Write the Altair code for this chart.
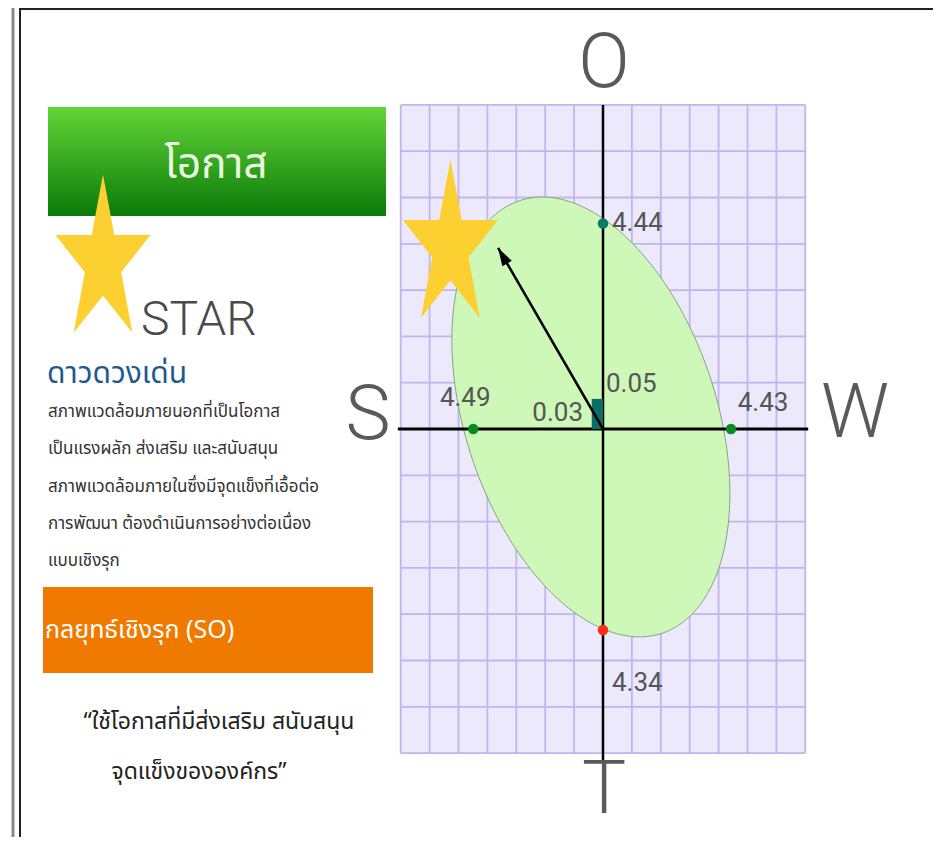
import math
import altair as alt
import pandas as pd

# ---------------- data ----------------
directions = ["O", "S", "W", "T"]
scores = [4.44, 4.49, 4.43, 4.34]
score_text = ["4.44", "4.49", "4.43", "4.34"]
dir_x = [0, -1, 1, 0]
dir_y = [1, 0, 0, -1]
point_colors = ["#0b7a63", "#0b8a1f", "#0b8a1f", "#ff2b12"]
shift_values = [0.05, 0.03]          # (O-T)/2 , (S-W)/2
shift_text = ["0.05", "0.03"]

title_box = "โอกาส"
star_word = "STAR"
star_name = "ดาวดวงเด่น"
body_lines = [
    "สภาพแวดล้อมภายนอกที่เป็นโอกาส",
    "เป็นแรงผลัก ส่งเสริม และสนับสนุน",
    "สภาพแวดล้อมภายในซึ่งมีจุดแข็งที่เอื้อต่อ",
    "การพัฒนา ต้องดำเนินการอย่างต่อเนื่อง",
    "แบบเชิงรุก",
]
strategy = "กลยุทธ์เชิงรุก (SO)"
quote_lines = ["“ใช้โอกาสที่มีส่งเสริม สนับสนุน", "จุดแข็งขององค์กร”"]

# ---------------- layout ----------------
W, H = 925, 829
OX, OY = 603 - 8, 429 - 8          # origin of the quadrant grid (view px)
CX, CY = 28.9, 46.3                # px per unit
X0, X1 = -OX / CX, (W - OX) / CX
Y0, Y1 = -(H - OY) / CY, OY / CY
GRID = 7

FL = "Roboto, Liberation Sans, sans-serif"
FT = "Noto Sans Thai, Noto Sans Thai UI, Loma, Garuda, Tlwg Typo, Waree, sans-serif"

XS = alt.Scale(domain=[X0, X1], nice=False, zero=False)
YS = alt.Scale(domain=[Y0, Y1], nice=False, zero=False)


def X(f):
    return alt.X(f, type="quantitative", scale=XS, axis=None)


def Y(f):
    return alt.Y(f, type="quantitative", scale=YS, axis=None)


def one(**kw):
    return pd.DataFrame([kw if kw else {"k": 0}])


def ptext(text, px, py, size, color, font, align="left", baseline="middle", weight="normal"):
    return alt.Chart(pd.DataFrame({"t": [text]})).mark_text(
        align=align, baseline=baseline, fontSize=size, color=color, font=font, fontWeight=weight
    ).encode(x=alt.value(px - 8), y=alt.value(py - 8), text="t:N")


def star_path(stretch):
    pts = []
    for k in range(10):
        r = 1.0 if k % 2 == 0 else 0.382
        a = math.radians(-90 + 36 * k)
        pts.append((r * math.cos(a), r * math.sin(a) * stretch))
    return "M" + " L".join(f"{x:.3f},{y:.3f}" for x, y in pts) + " Z"


STAR = star_path(1.75)
ARROW_HEAD = "M0,0 L0.55,1.8 L-0.55,1.8 Z"

layers = []

# grid background and lines
layers.append(alt.Chart(one(x=-GRID, x2=GRID, y=-GRID, y2=GRID)).mark_rect(color="#ece9fc").encode(
    x=X("x"), x2="x2", y=Y("y"), y2="y2"))
gv = pd.DataFrame({"x": list(range(-GRID, GRID + 1)), "y": -GRID, "y2": GRID})
layers.append(alt.Chart(gv).mark_rule(color="#bdb7ec", strokeWidth=1.8).encode(x=X("x"), y=Y("y"), y2="y2"))
gh = pd.DataFrame({"y": list(range(-GRID, GRID + 1)), "x": -GRID, "x2": GRID})
layers.append(alt.Chart(gh).mark_rule(color="#bdb7ec", strokeWidth=1.8).encode(y=Y("y"), x=X("x"), x2="x2"))

# tilted ellipse
ecx, ecy, EA, EB, EC = -0.42, 0.26, 4.81, -1.66, 4.45
n = 120
ts = [math.pi * i / n for i in range(n + 1)]
ell = pd.DataFrame({
    "x": [ecx + EA * math.cos(t) for t in ts],
    "y": [ecy + EB * math.cos(t) + EC * math.sin(t) for t in ts],
    "y2": [ecy + EB * math.cos(t) - EC * math.sin(t) for t in ts],
})
layers.append(alt.Chart(ell).mark_area(color="#cdf8b8", opacity=1).encode(x=X("x"), y=Y("y"), y2="y2"))
ts2 = [2 * math.pi * i / 240 for i in range(241)]
outline = pd.DataFrame({
    "t": list(range(241)),
    "x": [ecx + EA * math.cos(t) for t in ts2],
    "y": [ecy + EB * math.cos(t) + EC * math.sin(t) for t in ts2],
})
layers.append(alt.Chart(outline).mark_line(color="#86a386", strokeWidth=1).encode(
    x=X("x"), y=Y("y"), order="t:Q"))

# axes
layers.append(alt.Chart(one(x=-7.1, x2=7.1, y=0)).mark_rule(color="#000", strokeWidth=3).encode(
    x=X("x"), x2="x2", y=Y("y")))
layers.append(alt.Chart(one(x=0, y=7.0, y2=-7.2)).mark_rule(color="#000", strokeWidth=2.5).encode(
    x=X("x"), y=Y("y"), y2="y2"))

# shift square
K = 13
layers.append(alt.Chart(one(x=-shift_values[1] * K, x2=0, y=0, y2=shift_values[0] * K)).mark_rect(
    color="#0b6e66").encode(x=X("x"), x2="x2", y=Y("y"), y2="y2"))

# arrow
ax, ay = -3.63, 3.91
layers.append(alt.Chart(pd.DataFrame({"x": [0, ax], "y": [0, ay]})).mark_line(
    color="#000", strokeWidth=2.5).encode(x=X("x"), y=Y("y")))
layers.append(alt.Chart(one(x=ax, y=ay)).mark_point(
    shape=ARROW_HEAD, filled=True, color="#000", opacity=1, size=400, angle=330, strokeWidth=0).encode(
    x=X("x"), y=Y("y")))

# star on the chart
layers.append(alt.Chart(one(x=-5.28, y=3.93)).mark_point(
    shape=STAR, filled=True, color="#fdd031", opacity=1, size=10000, strokeWidth=0).encode(
    x=X("x"), y=Y("y")))

# score points
pts = pd.DataFrame({
    "d": directions,
    "x": [a * s for a, s in zip(dir_x, scores)],
    "y": [b * s for b, s in zip(dir_y, scores)],
    "c": point_colors,
    "lab": score_text,
})
layers.append(alt.Chart(pts).mark_point(filled=True, opacity=1, size=110, strokeWidth=0).encode(
    x=X("x"), y=Y("y"), color=alt.Color("c:N", scale=None)))

label_style = {"O": (9, 0, "left"), "S": (-8, -31, "center"), "W": (32, -26, "center"), "T": (9, 53, "left")}
for i, d in enumerate(directions):
    dx, dy, al = label_style[d]
    layers.append(alt.Chart(pts.iloc[[i]]).mark_text(
        dx=dx, dy=dy, align=al, baseline="middle", fontSize=26, font=FL, color="#555").encode(
        x=X("x"), y=Y("y"), text="lab:N"))

shift_df = pd.DataFrame({"x": [0, 0], "y": [0, 0], "t": shift_text})
layers.append(alt.Chart(shift_df.iloc[[0]]).mark_text(
    dx=3, dy=-45, align="left", baseline="middle", fontSize=26, font=FL, color="#555").encode(
    x=X("x"), y=Y("y"), text="t:N"))
layers.append(alt.Chart(shift_df.iloc[[1]]).mark_text(
    dx=-20, dy=-16, align="right", baseline="middle", fontSize=26, font=FL, color="#555").encode(
    x=X("x"), y=Y("y"), text="t:N"))

# big direction letters
letter_pos = {"O": (604, 64), "S": (368, 416), "W": (855, 414), "T": (604, 791)}
for d in directions:
    px, py = letter_pos[d]
    layers.append(ptext(d, px, py, 74 if d == "T" else 76, "#5a5a5a", FL, align="center", weight=300))

# ---------------- left panel ----------------
grad = alt.LinearGradient(gradient="linear", x1=0, x2=0, y1=0, y2=1, stops=[
    alt.GradientStop(color="#63d536", offset=0), alt.GradientStop(color="#0a7a0a", offset=1)])
layers.append(alt.Chart(one()).mark_rect(color=grad).encode(
    x=alt.value(48 - 8), x2=alt.value(386 - 8), y=alt.value(107 - 8), y2=alt.value(216 - 8)))
layers.append(ptext(title_box, 216, 165, 42, "#eaf7e0", FT, align="center"))
layers.append(alt.Chart(one()).mark_point(
    shape=STAR, filled=True, color="#fdd031", opacity=1, size=10000, strokeWidth=0).encode(
    x=alt.value(103 - 8), y=alt.value(262 - 8)))
layers.append(ptext(star_word, 141, 335, 48, "#4a4a4a", FL, baseline="alphabetic", weight=300))
layers.append(ptext(star_name, 47, 383, 30, "#1d5a8e", FT, baseline="alphabetic"))
for i, line in enumerate(body_lines):
    layers.append(ptext(line, 48, 412 + 37.3 * i, 17, "#333333", FT))
layers.append(alt.Chart(one()).mark_rect(color="#f07a00").encode(
    x=alt.value(43 - 8), x2=alt.value(373 - 8), y=alt.value(587 - 8), y2=alt.value(673 - 8)))
layers.append(ptext(strategy, 45, 630, 25, "#ffffff", FT))
layers.append(ptext(quote_lines[0], 219, 722, 23, "#222222", FT, align="center"))
layers.append(ptext(quote_lines[1], 199, 772, 23, "#222222", FT, align="center"))

# frame lines
layers.append(alt.Chart(one()).mark_rule(color="#8a8a8a", strokeWidth=3).encode(
    x=alt.value(5), y=alt.value(0), y2=alt.value(H)))
layers.append(alt.Chart(one()).mark_rule(color="#222222", strokeWidth=2).encode(
    x=alt.value(12), y=alt.value(0), y2=alt.value(H)))
layers.append(alt.Chart(one()).mark_rule(color="#222222", strokeWidth=4).encode(
    x=alt.value(12), x2=alt.value(W), y=alt.value(0)))

chart = alt.layer(*layers).properties(
    width=W, height=H, padding=0, autosize=alt.AutoSizeParams(type="none"), background="#ffffff"
).configure_view(strokeWidth=0)

chart.save("out.html", embed_options={"renderer": "svg", "actions": False})
